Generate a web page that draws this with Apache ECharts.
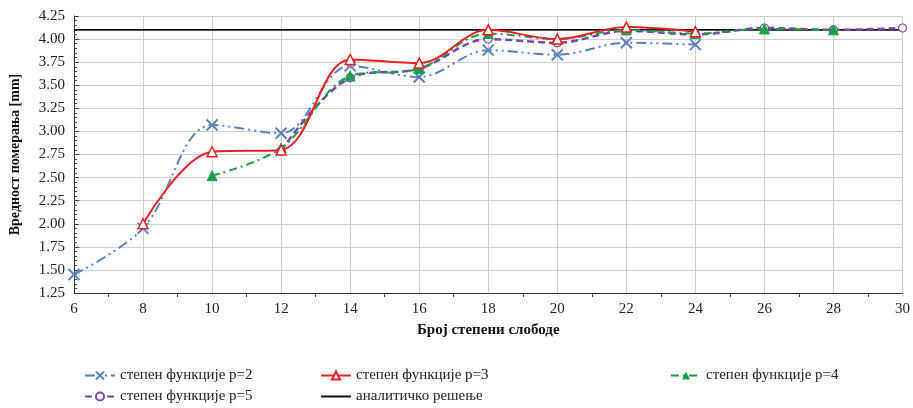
<!DOCTYPE html>
<html><head><meta charset="utf-8">
<script src="https://cdn.jsdelivr.net/npm/echarts@6/dist/echarts.min.js"></script>
<style>html,body{margin:0;padding:0;background:#fff}#c{width:913px;height:408px}</style>
</head><body><div id="c"></div>
<script>
const xTicks = [6, 8, 10, 12, 14, 16, 18, 20, 22, 24, 26, 28, 30];
const p2X = [6, 8, 10, 12, 14, 16, 18, 20, 22, 24];
const p2Y = [1.45, 1.95, 3.07, 2.98, 3.71, 3.59, 3.88, 3.83, 3.96, 3.94];
const p3X = [8, 10, 12, 14, 16, 18, 20, 22, 24];
const p3Y = [2.00, 2.78, 2.80, 3.78, 3.74, 4.10, 4.00, 4.13, 4.08];
const p4X = [10, 12, 14, 16, 18, 20, 22, 24, 26, 28];
const p4Y = [2.52, 2.82, 3.60, 3.68, 4.06, 4.00, 4.10, 4.06, 4.11, 4.10];
const p5X = [12, 14, 16, 18, 20, 22, 24, 26, 28, 30];
const p5Y = [2.79, 3.58, 3.68, 4.00, 3.96, 4.09, 4.05, 4.12, 4.10, 4.12];
const analytic = 4.10;
const names = ['степен функције p=2', 'степен функције p=3', 'степен функције p=4', 'степен функције p=5', 'аналитичко решење'];

const zip = (xs, ys) => xs.map((x, i) => [x, ys[i]]);
const font = 'Liberation Serif';
const chart = echarts.init(document.getElementById('c'));
const lg = (name, left, top, extra) => Object.assign({
  data: [name], left: left, top: top, orient: 'horizontal', itemWidth: 30, itemHeight: 10,
  padding: 0, textStyle: {fontFamily: font, fontSize: 15, color: '#222'}
}, extra || {});
chart.setOption({
  animation: false,
  textStyle: {fontFamily: font},
  grid: {left: 69, right: 7, top: 16, bottom: 115},
  legend: [
    lg(names[0], 84, 368), lg(names[3], 84, 389),
    lg(names[1], 320, 368), lg(names[4], 320, 389, {itemStyle: {opacity: 0}}),
    lg(names[2], 670, 368)
  ],
  xAxis: {
    type: 'value', min: 6, max: 30, interval: 2,
    name: 'Број степени слободе', nameLocation: 'middle', nameGap: 30,
    nameTextStyle: {fontFamily: font, fontSize: 15, fontWeight: 'bold', color: '#111'},
    axisLine: {lineStyle: {color: '#333', width: 1}},
    axisTick: {show: false},
    minorTick: {show: true, splitNumber: 2, length: 4, lineStyle: {color: '#444'}},
    axisLabel: {fontFamily: font, fontSize: 15, color: '#222', margin: 9},
    splitLine: {show: true, lineStyle: {color: '#cfcfcf', width: 1}}
  },
  yAxis: {
    type: 'value', min: 1.25, max: 4.25, interval: 0.25,
    name: 'Вредност померања [mm]', nameLocation: 'middle', nameGap: 52, nameRotate: 90,
    nameTextStyle: {fontFamily: font, fontSize: 14, fontWeight: 'bold', color: '#111'},
    axisLine: {show: true, lineStyle: {color: '#333', width: 1}},
    axisTick: {show: true, inside: true, length: 5, lineStyle: {color: '#444'}},
    minorTick: {show: true, splitNumber: 5, length: 3, lineStyle: {color: '#444'}},
    axisLabel: {fontFamily: font, fontSize: 15, color: '#222', margin: 9, formatter: v => v.toFixed(2)},
    splitLine: {show: true, lineStyle: {color: '#cfcfcf', width: 1}}
  },
  series: [
    {name: names[4], type: 'line', data: [[6, analytic], [30, analytic]], symbol: 'none',
      lineStyle: {color: '#111', width: 1.6}, itemStyle: {color: '#111'}, z: 1},
    {name: names[0], type: 'line', data: zip(p2X, p2Y), smooth: 0.35, clip: false,
      symbol: 'path://M-1,-1L1,1M1,-1L-1,1', symbolSize: 11, showSymbol: true,
      itemStyle: {color: 'transparent', borderColor: '#5B82C0', borderWidth: 2},
      lineStyle: {color: '#5B82C0', width: 2, type: [10, 4, 2, 4, 2, 4]}, z: 2},
    {name: names[1], type: 'line', data: zip(p3X, p3Y), smooth: 0.35, clip: false,
      symbol: 'triangle', symbolSize: 10,
      itemStyle: {color: '#fff', borderColor: '#E82020', borderWidth: 1.5},
      lineStyle: {color: '#E82020', width: 2}, z: 5},
    {name: names[2], type: 'line', data: zip(p4X, p4Y), smooth: 0.35, clip: false,
      symbol: 'triangle', symbolSize: 10,
      itemStyle: {color: '#1E9E4A', borderColor: '#1E9E4A'},
      lineStyle: {color: '#1E9E4A', width: 2, type: [8, 4, 2, 4]}, z: 4},
    {name: names[3], type: 'line', data: zip(p5X, p5Y), smooth: 0.35, clip: false,
      symbol: 'circle', symbolSize: 8, showSymbol: true,
      itemStyle: {color: '#ffffff', borderColor: '#7A45B0', borderWidth: 1.2, opacity: 1},
      lineStyle: {color: '#7A45B0', width: 2.5, type: [7, 4]}, z: 3}
  ]
});
</script></body></html>
